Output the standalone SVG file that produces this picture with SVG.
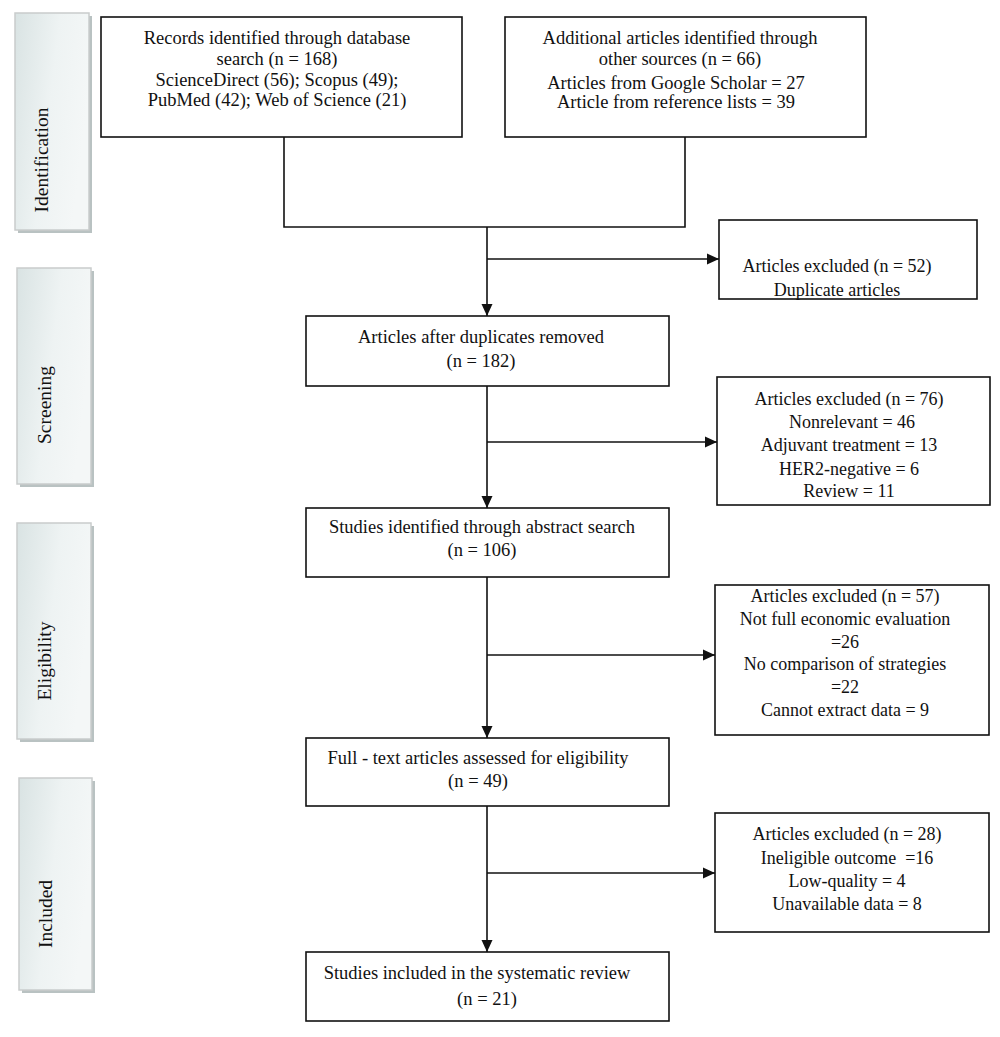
<svg xmlns="http://www.w3.org/2000/svg" width="1000" height="1037" viewBox="0 0 1000 1037">
<style>
text{font-family:"Liberation Serif","DejaVu Serif",serif;font-size:18.5px;fill:#111;text-anchor:middle}
.box{fill:#fff;stroke:#111;stroke-width:1.6}
.stage{fill:url(#sg);stroke:#c9cccc;stroke-width:1.5}
.shadow{fill:#b9c2c2}
.con{fill:none;stroke:#111;stroke-width:1.6}
.stxt{font-size:19.5px}
.ex{font-size:18px}
</style>
<defs>
<linearGradient id="sg" x1="0" y1="0" x2="1" y2="0.35">
<stop offset="0" stop-color="#d9e3e3"/>
<stop offset="0.55" stop-color="#eef3f3"/>
<stop offset="1" stop-color="#f4f7f7"/>
</linearGradient>
<marker id="ah" markerWidth="12" markerHeight="12" viewBox="0 0 12 12" refX="12" refY="6" orient="auto" markerUnits="userSpaceOnUse">
<path d="M0,0.5 L12,6 L0,11.5 Z" fill="#111"/>
</marker>
</defs>

<g id="stage-identification">
<rect class="shadow" x="18" y="16" width="74" height="217"/>
<rect class="stage" x="15" y="13" width="74" height="217"/>
<text class="stxt" transform="translate(48,160) rotate(-90)">Identification</text>
</g>
<g id="stage-screening">
<rect class="shadow" x="20" y="271" width="74" height="216"/>
<rect class="stage" x="17" y="268" width="74" height="216"/>
<text class="stxt" transform="translate(51,405) rotate(-90)">Screening</text>
</g>
<g id="stage-eligibility">
<rect class="shadow" x="20" y="526" width="74" height="216"/>
<rect class="stage" x="17" y="523" width="74" height="216"/>
<text class="stxt" transform="translate(51,661) rotate(-90)">Eligibility</text>
</g>
<g id="stage-included">
<rect class="shadow" x="22" y="781" width="73" height="212"/>
<rect class="stage" x="19" y="778" width="73" height="212"/>
<text class="stxt" transform="translate(52,914) rotate(-90)">Included</text>
</g>

<g id="connectors">
<polyline class="con" points="284,137 284,227 685,227 685,137"/>
<line class="con" x1="487" y1="227" x2="487" y2="316" marker-end="url(#ah)"/>
<line class="con" x1="487" y1="259" x2="719" y2="259" marker-end="url(#ah)"/>
<line class="con" x1="487" y1="386" x2="487" y2="508" marker-end="url(#ah)"/>
<line class="con" x1="487" y1="442" x2="717" y2="442" marker-end="url(#ah)"/>
<line class="con" x1="487" y1="577" x2="487" y2="738" marker-end="url(#ah)"/>
<line class="con" x1="487" y1="655" x2="715" y2="655" marker-end="url(#ah)"/>
<line class="con" x1="487" y1="806" x2="487" y2="952" marker-end="url(#ah)"/>
<line class="con" x1="487" y1="873" x2="715" y2="873" marker-end="url(#ah)"/>
</g>

<g id="node-records">
<rect class="box" x="101" y="17" width="361" height="120"/>
<text x="277" y="44">Records identified through database</text>
<text x="277" y="65">search (n = 168)</text>
<text x="277" y="86">ScienceDirect (56); Scopus (49);</text>
<text x="277" y="106">PubMed (42); Web of Science (21)</text>
</g>
<g id="node-additional">
<rect class="box" x="505" y="17" width="361" height="120"/>
<text x="680" y="44">Additional articles identified through</text>
<text x="680" y="65">other sources (n = 66)</text>
<text x="676" y="89">Articles from Google Scholar = 27</text>
<text x="676" y="108">Article from reference lists = 39</text>
</g>
<g id="node-excl-duplicates">
<rect class="box" x="719" y="220" width="258" height="79"/>
<text class="ex" x="837" y="272">Articles excluded (n = 52)</text>
<text class="ex" x="837" y="296">Duplicate articles</text>
</g>
<g id="node-after-duplicates">
<rect class="box" x="306" y="316" width="363" height="70"/>
<text x="481" y="343">Articles after duplicates removed</text>
<text x="481" y="367">(n = 182)</text>
</g>
<g id="node-excl-screening">
<rect class="box" x="717" y="377" width="273" height="128"/>
<text class="ex" x="849" y="405">Articles excluded (n = 76)</text>
<text class="ex" x="852" y="428">Nonrelevant = 46</text>
<text class="ex" x="849" y="451">Adjuvant treatment = 13</text>
<text class="ex" x="849" y="475">HER2-negative = 6</text>
<text class="ex" x="849" y="497">Review = 11</text>
</g>
<g id="node-abstract">
<rect class="box" x="306" y="508" width="363" height="69"/>
<text x="482" y="533">Studies identified through abstract search</text>
<text x="482" y="556">(n = 106)</text>
</g>
<g id="node-excl-eligibility">
<rect class="box" x="715" y="585" width="274" height="150"/>
<text class="ex" x="845" y="602">Articles excluded (n = 57)</text>
<text class="ex" x="845" y="625">Not full economic evaluation</text>
<text class="ex" x="845" y="648">=26</text>
<text class="ex" x="845" y="670">No comparison of strategies</text>
<text class="ex" x="845" y="693">=22</text>
<text class="ex" x="845" y="716">Cannot extract data = 9</text>
</g>
<g id="node-fulltext">
<rect class="box" x="306" y="738" width="363" height="68"/>
<text x="478" y="764">Full - text articles assessed for eligibility</text>
<text x="478" y="787">(n = 49)</text>
</g>
<g id="node-excl-included">
<rect class="box" x="715" y="813" width="274" height="119"/>
<text class="ex" x="847" y="840">Articles excluded (n = 28)</text>
<text class="ex" x="847" y="864">Ineligible outcome&#160; =16</text>
<text class="ex" x="847" y="887">Low-quality = 4</text>
<text class="ex" x="847" y="910">Unavailable data = 8</text>
</g>
<g id="node-included">
<rect class="box" x="306" y="952" width="363" height="69"/>
<text x="477" y="979">Studies included in the systematic review</text>
<text x="487" y="1005">(n = 21)</text>
</g>
</svg>
